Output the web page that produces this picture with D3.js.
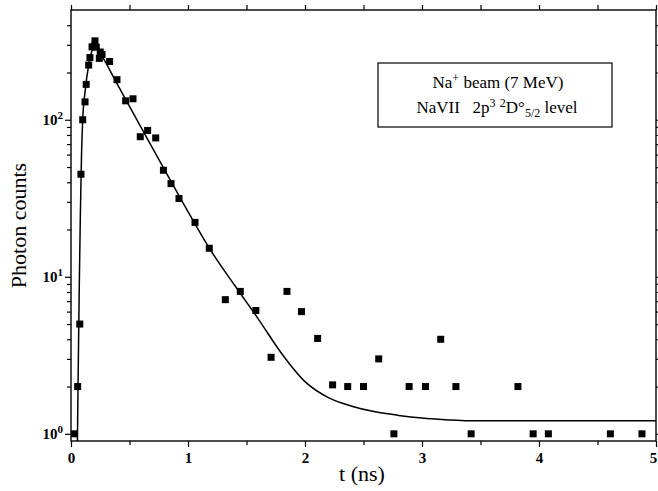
<html>
<head>
  <script src="https://d3js.org/d3.v7.min.js"></script>
  <style>
    body { margin: 0; background: #fff; }
    text { font-family: "Liberation Serif", "Times New Roman", serif; }
  </style>
</head>
<body>
  <svg id="chart"></svg>

  <script>
    // measured points (t in ns, photon counts)
    const pointT = [0.03, 0.057, 0.075, 0.085, 0.10, 0.12, 0.13, 0.151, 0.162, 0.18, 0.2, 0.205, 0.216,
      0.242, 0.25, 0.265, 0.33, 0.393, 0.467, 0.53, 0.592, 0.655, 0.724, 0.79, 0.855, 0.923, 1.06,
      1.182, 1.319, 1.447, 1.58, 1.71, 1.846, 1.97, 2.108, 2.236, 2.365, 2.5, 2.63, 2.76, 2.89,
      3.03, 3.16, 3.29, 3.42, 3.82, 3.95, 4.08, 4.61, 4.88];
    const pointV = [1, 2, 5, 45, 100, 130, 168, 223, 249, 291, 295, 318, 290,
      246, 270, 260, 235, 180, 132, 136, 78, 85.5, 76.6, 47.7, 39.2, 31.5, 22.2,
      15.2, 7.15, 8.07, 6.1, 3.07, 8.07, 6, 4.05, 2.05, 2, 2, 3, 1, 2,
      2, 4, 2, 1, 2, 1, 1, 1, 1];

    // fitted curve
    const fitT = [0.055, 0.06, 0.07, 0.08, 0.09, 0.1, 0.12, 0.15, 0.18, 0.2, 0.22, 0.25, 0.4, 0.6, 0.8, 1.0,
      1.2, 1.4, 1.6, 1.8, 2.0, 2.2, 2.4, 2.6, 2.8, 3.0, 3.2, 3.4, 5.0];
    const fitV = [0.9, 2, 8, 25, 60, 100, 150, 220, 275, 290, 285, 265, 166, 89, 48, 26,
      14.5, 8.8, 5.4, 3.25, 2.15, 1.7, 1.5, 1.38, 1.31, 1.26, 1.23, 1.21, 1.21];

    const xMajor = [0, 1, 2, 3, 4, 5];
    const xMinor = [0.5, 1.5, 2.5, 3.5, 4.5];
    const yMajor = [1, 10, 100];
    const yExp = ['0', '1', '2'];

    const width = 658, height = 491;
    const margin = {left: 71, right: 2, top: 10, bottom: 50};

    const svg = d3.select('#chart').attr('width', width).attr('height', height);

    const x = d3.scaleLinear().domain([0, 5]).range([margin.left, width - margin.right]);
    const y = d3.scaleLog().domain([0.9, 500]).range([height - margin.bottom, margin.top]);

    const yMinor = [];
    [1, 10, 100].forEach(d => { for (let k = 2; k <= 9; k++) if (d * k < 500) yMinor.push(d * k); });

    const x0 = x.range()[0], x1 = x.range()[1], y0 = y.range()[0], y1 = y.range()[1];

    function styleAxis(g) {
      g.select('.domain').remove();
      g.selectAll('line').attr('stroke', '#000').attr('stroke-width', 1.2);
    }

    // bottom
    svg.append('g').attr('transform', `translate(0,${y0})`)
      .call(d3.axisBottom(x).tickValues(xMajor).tickSize(6).tickFormat(d3.format('d')))
      .call(styleAxis)
      .call(g => g.selectAll('text').attr('font-size', 15).attr('font-weight', 'bold')
        .attr('fill', '#000').attr('y', 11)
        .attr('dx', d => d === 5 ? -3 : 0));
    svg.append('g').attr('transform', `translate(0,${y0})`)
      .call(d3.axisBottom(x).tickValues(xMinor).tickSize(4).tickFormat(''))
      .call(styleAxis);
    // top
    svg.append('g').attr('transform', `translate(0,${y1})`)
      .call(d3.axisTop(x).tickValues(xMajor.concat(xMinor)).tickSize(5).tickFormat(''))
      .call(styleAxis);

    // left
    svg.append('g').attr('transform', `translate(${x0},0)`)
      .call(d3.axisLeft(y).tickValues(yMajor).tickSize(6).tickFormat(''))
      .call(styleAxis);
    svg.append('g').attr('transform', `translate(${x0},0)`)
      .call(d3.axisLeft(y).tickValues(yMinor).tickSize(4).tickFormat(''))
      .call(styleAxis);
    // right
    svg.append('g').attr('transform', `translate(${x1},0)`)
      .call(d3.axisRight(y).tickValues(yMajor).tickSize(6).tickFormat(''))
      .call(styleAxis);
    svg.append('g').attr('transform', `translate(${x1},0)`)
      .call(d3.axisRight(y).tickValues(yMinor).tickSize(4).tickFormat(''))
      .call(styleAxis);

    // y labels 10^n
    yMajor.forEach((d, i) => {
      const t = svg.append('text')
        .attr('x', x0 - 8).attr('y', y(d) + 5)
        .attr('text-anchor', 'end').attr('font-size', 15).attr('font-weight', 'bold');
      t.append('tspan').text('10');
      t.append('tspan').attr('dy', -6).attr('font-size', 11).text(yExp[i]);
    });

    // frame
    svg.append('rect')
      .attr('x', x0).attr('y', y1).attr('width', x1 - x0).attr('height', y0 - y1)
      .attr('fill', 'none').attr('stroke', '#000').attr('stroke-width', 1.4);

    // axis titles
    svg.append('text')
      .attr('transform', `translate(26,${(y0 + y1) / 2}) rotate(-90)`)
      .attr('text-anchor', 'middle').attr('font-size', 22)
      .text('Photon counts');
    svg.append('text')
      .attr('x', 362).attr('y', 481)
      .attr('text-anchor', 'middle').attr('font-size', 22)
      .text('t (ns)');

    // fit curve
    const fit = fitT.map((t, i) => [t, fitV[i]]);
    svg.append('path')
      .datum(fit)
      .attr('fill', 'none').attr('stroke', '#000').attr('stroke-width', 1.5)
      .attr('d', d3.line().x(d => x(d[0])).y(d => y(d[1])).curve(d3.curveMonotoneX));

    // points
    const pts = pointT.map((t, i) => [t, pointV[i]]);
    const sq = 7;
    svg.selectAll('rect.pt')
      .data(pts)
      .enter().append('rect')
      .attr('class', 'pt')
      .attr('x', d => x(d[0]) - sq / 2)
      .attr('y', d => y(d[1]) - sq / 2)
      .attr('width', sq).attr('height', sq)
      .attr('fill', '#000');

    // legend box
    const lg = svg.append('g');
    lg.append('rect')
      .attr('x', 378).attr('y', 63).attr('width', 234).attr('height', 64)
      .attr('fill', '#fff').attr('stroke', '#000').attr('stroke-width', 1.2);
    const l1 = lg.append('text').attr('x', 498).attr('y', 88)
      .attr('text-anchor', 'middle').attr('font-size', 17);
    l1.append('tspan').text('Na');
    l1.append('tspan').attr('dy', -6).attr('font-size', 12).text('+');
    l1.append('tspan').attr('dy', 6).text(' beam (7 MeV)');
    const l2 = lg.append('text').attr('x', 497).attr('y', 113)
      .attr('text-anchor', 'middle').attr('font-size', 17);
    l2.append('tspan').text('NaVII\u00a0\u00a0\u00a02p');
    l2.append('tspan').attr('dy', -6).attr('font-size', 12).text('3');
    l2.append('tspan').attr('dy', 6).text('\u00a0');
    l2.append('tspan').attr('dy', -6).attr('font-size', 12).text('2');
    l2.append('tspan').attr('dy', 6).text('D\u00b0');
    l2.append('tspan').attr('dy', 4).attr('font-size', 12).text('5/2');
    l2.append('tspan').attr('dy', -4).text(' level');
  </script>
</body>
</html>
